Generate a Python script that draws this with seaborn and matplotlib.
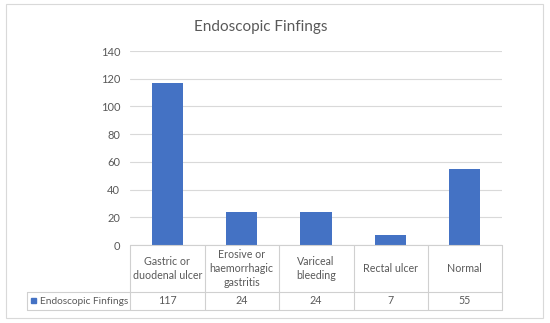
import matplotlib
matplotlib.use("Agg")
import matplotlib.pyplot as plt
from matplotlib.lines import Line2D
from matplotlib.patches import Rectangle
import seaborn as sns
import pandas as pd

categories = ["Gastric or\nduodenal ulcer", "Erosive or\nhaemorrhagic\ngastritis",
              "Variceal\nbleeding", "Rectal ulcer", "Normal"]
values = [117, 24, 24, 7, 55]
series_name = "Endoscopic Finfings"
title = "Endoscopic Finfings"
yticks = [0, 20, 40, 60, 80, 100, 120, 140]

sns.set_theme(style="white")
plt.rcParams["font.family"] = ["Lato", "DejaVu Sans"]

W, H = 550, 323
fig = plt.figure(figsize=(5.5, 3.23), dpi=100)
TXT = "#595959"
GRID = "#D9D9D9"
BAR = "#4472C4"

def fx(px):
    return px / W

def fy(py):
    return 1 - py / H

x0, x1, y0, y1 = 130, 502, 245, 51
ax = fig.add_axes([fx(x0), fy(y0), fx(x1) - fx(x0), fy(y1) - fy(y0)])

df = pd.DataFrame({"cat": categories, "val": values})
sns.barplot(data=df, x="cat", y="val", color=BAR, width=0.42, ax=ax,
            saturation=1, edgecolor="none")

ax.set_ylim(0, 140)
ax.set_xlim(-0.5, len(categories) - 0.5)
ax.set_yticks(yticks)
ax.set_yticklabels([str(t) for t in yticks], fontsize=8, color=TXT)
ax.tick_params(axis="y", length=0, pad=7)
ax.set_xticks([])
ax.set_xlabel("")
ax.set_ylabel("")
ax.yaxis.grid(True, color=GRID, linewidth=0.8)
ax.set_axisbelow(True)
for s in ["top", "right", "left", "bottom"]:
    ax.spines[s].set_visible(False)

fig.suptitle(title, x=fx(261), y=fy(27), fontsize=11, color=TXT, va="center")

# data table
trans = ax.get_xaxis_transform()
ah = y0 - y1
row1_mid = -((268.5 - y0) / ah)
row2_mid = -((301 - y0) / ah)
for i, (c, v) in enumerate(zip(categories, values)):
    ax.text(i, row1_mid, c, transform=trans, ha="center", va="center",
            fontsize=7.7, color=TXT, linespacing=1.35, clip_on=False)
    ax.text(i, row2_mid, str(v), transform=trans, ha="center", va="center",
            fontsize=7.7, color=TXT, clip_on=False)

lc = "#D0D0D0"
lw = 0.8
bounds = [130, 204.5, 279, 354, 428, 502]
for b in bounds:
    fig.add_artist(Line2D([fx(b), fx(b)], [fy(245), fy(310)], color=lc, lw=lw))
fig.add_artist(Line2D([fx(130), fx(502)], [fy(245), fy(245)], color=lc, lw=lw))
fig.add_artist(Line2D([fx(26.5), fx(502)], [fy(292), fy(292)], color=lc, lw=lw))
fig.add_artist(Line2D([fx(26.5), fx(502)], [fy(310), fy(310)], color=lc, lw=lw))
fig.add_artist(Line2D([fx(26.5), fx(26.5)], [fy(292), fy(310)], color=lc, lw=lw))

# legend key in table
fig.add_artist(Rectangle((fx(31), fy(303)), fx(5), fy(298) - fy(303), color=BAR,
                         transform=fig.transFigure))
fig.text(fx(39.5), fy(301), series_name, ha="left", va="center", fontsize=7.3, color=TXT)

# outer border
fig.add_artist(Rectangle((fx(6), fy(318)), fx(543) - fx(6), fy(4) - fy(318),
                         fill=False, edgecolor=GRID, lw=0.8, transform=fig.transFigure))

fig.savefig("out.png", dpi=100)
